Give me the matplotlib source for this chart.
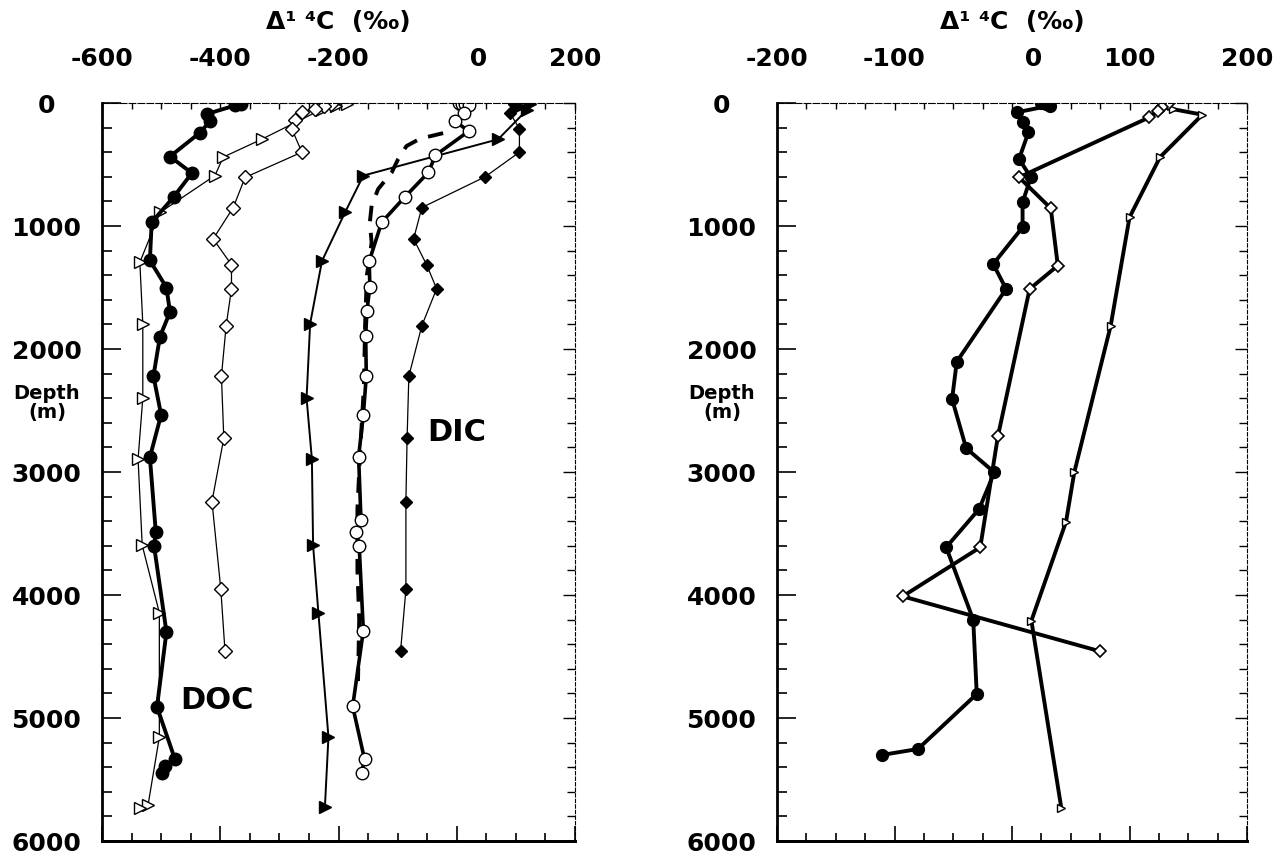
import matplotlib
matplotlib.use("Agg")
import matplotlib.pyplot as plt
from matplotlib.ticker import MultipleLocator, FuncFormatter

plt.rcParams["axes.unicode_minus"] = False

# ---- left panel: DOC and DIC profiles ----
# DOC, filled circles (thick line)
doc1_depth = [5, 20, 90, 145, 240, 435, 570, 765, 970, 1280, 1500, 1700, 1900,
              2220, 2535, 2880, 3490, 3600, 4300, 4910, 5330, 5390, 5445]
doc1_d14c = [-365, -375, -423, -417, -434, -485, -448, -479, -516, -519, -491,
             -485, -502, -513, -500, -519, -509, -512, -491, -507, -477, -493, -499]
# DOC, open triangles
doc2_depth = [5, 25, 55, 295, 440, 590, 890, 1295, 1795, 2400, 2895, 3595, 4145,
              5155, 5705, 5730]
doc2_d14c = [-186, -205, -230, -330, -395, -409, -502, -536, -531, -531, -539,
             -532, -503, -503, -522, -536]
# DOC, open diamonds
doc3_depth = [8, 25, 45, 75, 140, 210, 400, 605, 850, 1105, 1315, 1510, 1810,
              2220, 2725, 3240, 3955, 4455]
doc3_d14c = [-212, -225, -240, -262, -274, -279, -262, -358, -378, -412, -381,
             -381, -390, -398, -394, -414, -399, -392]
# DIC, open circles (thick line)
dic1_depth = [3, 6, 10, 15, 80, 145, 230, 425, 565, 765, 970, 1285, 1495, 1695,
              1895, 2220, 2535, 2875, 3390, 3490, 3600, 4290, 4905, 5335, 5445]
dic1_d14c = [3, 9, 14, 21, 13, -3, 20, -36, -48, -88, -127, -148, -147, -152,
             -154, -153, -158, -166, -162, -170, -165, -158, -176, -156, -161]
# DIC, filled triangles
dic2_depth = [5, 30, 60, 295, 590, 890, 1285, 1795, 2400, 2895, 3595, 4145, 5155, 5725]
dic2_d14c = [124, 105, 118, 70, -158, -189, -228, -248, -254, -245, -243, -234, -217, -223]
# DIC, filled diamonds
dic3_depth = [10, 80, 210, 400, 600, 850, 1105, 1315, 1510, 1810, 2220, 2725,
              3240, 3955, 4455]
dic3_d14c = [97, 90, 106, 106, 48, -59, -73, -51, -34, -59, -81, -84, -86, -86, -95]
# DIC, dashed profile
dic4_depth = [245, 290, 350, 455, 565, 700, 835, 970, 1135, 1400, 1800, 2300,
              2800, 3300, 3800, 4200, 4700]
dic4_d14c = [-23, -62, -85, -99, -110, -133, -144, -147, -144, -152, -155, -157,
             -163, -168, -168, -165, -167]

# ---- right panel ----
r1_depth = [2, 10, 22, 76, 157, 238, 455, 604, 808, 1011, 1309, 1512, 2103,
            2407, 2807, 3003, 3301, 3612, 4201, 4805, 5252, 5301]
r1_d14c = [25, 29, 32, 4, 9, 14, 6, 16, 9, 9, -16, -5, -47, -51, -39, -15,
           -28, -56, -33, -30, -80, -111]
r2_depth = [8, 35, 62, 116, 604, 856, 1322, 1512, 2710, 3612, 4011, 4458]
r2_d14c = [133, 128, 124, 117, 6, 33, 39, 15, -12, -27, -93, 75]
r3_depth = [50, 95, 440, 930, 1810, 3003, 3404, 4209, 5734]
r3_d14c = [137, 162, 126, 100, 84, 53, 46, 16.5, 42]

W, H = 1282, 862
fig = plt.figure(figsize=(W / 100, H / 100), dpi=100)
ax1 = fig.add_axes([102 / W, 1 - 842 / H, 473 / W, 738 / H])
ax2 = fig.add_axes([777 / W, 1 - 842 / H, 470 / W, 738 / H])

lab_font = matplotlib.font_manager.FontProperties(family="DejaVu Sans", weight="bold", size=18)


def xfmt(v, pos):
    # the zero label is printed in a padded field, so it sits right of its tick
    return "     0" if v == 0 else "%d" % v


def style_axis(ax, xlim, xmajor, xminor):
    ax.set_xlim(*xlim)
    ax.set_ylim(6000, 0)
    ax.xaxis.set_major_locator(MultipleLocator(xmajor))
    ax.xaxis.set_minor_locator(MultipleLocator(xminor))
    ax.xaxis.set_major_formatter(FuncFormatter(xfmt))
    ax.yaxis.set_major_locator(MultipleLocator(1000))
    ax.yaxis.set_minor_locator(MultipleLocator(200))
    ax.tick_params(axis="x", which="both", direction="in", top=True, bottom=False,
                   labeltop=True, labelbottom=False, pad=24, width=1)
    ax.tick_params(axis="x", which="major", length=5)
    ax.tick_params(axis="x", which="minor", length=4)
    ax.tick_params(axis="y", which="both", direction="in", left=True, right=False,
                   pad=40, width=1.2)
    ax.tick_params(axis="y", which="major", length=14)
    ax.tick_params(axis="y", which="minor", length=7)
    for lab in ax.get_xticklabels() + ax.get_yticklabels():
        lab.set_fontproperties(lab_font)
    for lab in ax.get_yticklabels():
        lab.set_horizontalalignment("center")
    ax.spines["left"].set_linewidth(2)
    ax.spines["bottom"].set_linewidth(2)
    ax.spines["top"].set_linewidth(0.8)
    ax.spines["top"].set_linestyle((0, (6, 2)))
    ax.spines["right"].set_linewidth(0.8)
    ax.spines["right"].set_linestyle((0, (3, 2)))

    sx = ax.secondary_xaxis("bottom")
    sx.xaxis.set_major_locator(MultipleLocator(xmajor))
    sx.xaxis.set_minor_locator(MultipleLocator(xminor))
    sx.tick_params(axis="x", which="both", direction="in", labelbottom=False, width=1.2)
    sx.tick_params(axis="x", which="major", length=11)
    sx.tick_params(axis="x", which="minor", length=6)
    sx.spines["bottom"].set_linewidth(2)

    sy = ax.secondary_yaxis("right")
    sy.yaxis.set_major_locator(MultipleLocator(1000))
    sy.yaxis.set_minor_locator(MultipleLocator(200))
    sy.tick_params(axis="y", which="both", direction="in", labelright=False, width=1)
    sy.tick_params(axis="y", which="major", length=9)
    sy.tick_params(axis="y", which="minor", length=6)
    sy.spines["right"].set_visible(False)


style_axis(ax1, (-600, 200), 200, 50)
style_axis(ax2, (-200, 200), 100, 25)

# left panel lines
ax1.plot(doc2_d14c, doc2_depth, color="k", lw=0.9, marker=">", ms=9,
         mfc="white", mec="k", mew=1)
ax1.plot(doc3_d14c, doc3_depth, color="k", lw=0.9, marker="D", ms=7,
         mfc="white", mec="k", mew=1)
ax1.plot(doc1_d14c, doc1_depth, color="k", lw=2.8, marker="o", ms=9,
         mfc="k", mec="k")
ax1.plot(dic4_d14c, dic4_depth, color="k", lw=2.8, ls=(0, (4, 3)))
ax1.plot(dic2_d14c, dic2_depth, color="k", lw=1.4, marker=">", ms=9,
         mfc="k", mec="k")
ax1.plot(dic3_d14c, dic3_depth, color="k", lw=0.9, marker="D", ms=6,
         mfc="k", mec="k")
ax1.plot(dic1_d14c, dic1_depth, color="k", lw=2.6, marker="o", ms=9,
         mfc="white", mec="k", mew=1)

ax1.text(0, 2670, "DIC", fontsize=22, fontweight="bold", ha="center", va="center")
ax1.text(-405, 4850, "DOC", fontsize=22, fontweight="bold", ha="center", va="center")

# right panel lines
ax2.plot(r3_d14c, r3_depth, color="k", lw=2.8, marker=">", ms=6,
         mfc="white", mec="k", mew=1)
ax2.plot(r2_d14c, r2_depth, color="k", lw=2.8, marker="D", ms=6,
         mfc="white", mec="k", mew=1.2)
ax2.plot(r1_d14c, r1_depth, color="k", lw=2.8, marker="o", ms=8.5,
         mfc="k", mec="k")

for ax, cx in ((ax1, 338), (ax2, 1012)):
    fig.text(cx / W, 1 - 22 / H, "Δ¹ ⁴C  (‰)", ha="center", va="center",
             fontsize=18, fontweight="bold")
for x in (47, 722):
    fig.text(x / W, 1 - 403 / H, "Depth\n(m)", ha="center", va="center",
             fontsize=14, fontweight="bold", linespacing=0.95)

fig.savefig("out.png", dpi=100)
